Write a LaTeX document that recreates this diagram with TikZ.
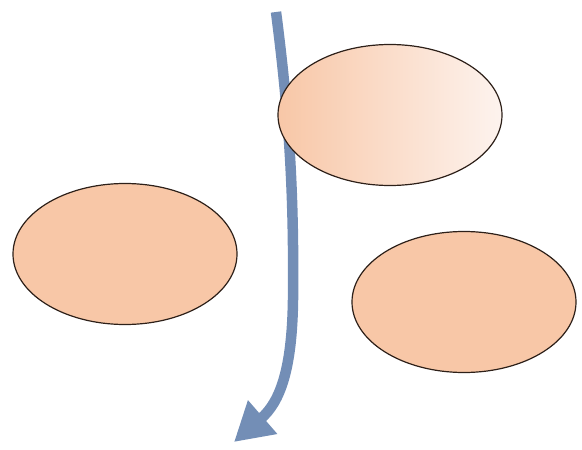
\documentclass[tikz,border=0pt]{standalone}
\usetikzlibrary{shapes.geometric,arrows.meta}
\definecolor{peach}{RGB}{248,199,167}
\definecolor{peachlight}{RGB}{253,243,238}
\definecolor{rim}{RGB}{45,32,25}
\definecolor{steel}{RGB}{115,142,182}
\begin{document}
\begin{tikzpicture}[x=1pt,y=-1pt,
  blob/.style={ellipse,draw=rim,line width=1.2pt,fill=peach,minimum width=224pt,minimum height=141pt,inner sep=0pt},
  flow/.style={draw=steel,line width=10.5pt,-{Triangle[length=38pt,width=42pt]}}]
\useasboundingbox (0,0) rectangle (582,450);
\coordinate (start) at (276,12);
\coordinate (mid) at (293,300);
\coordinate (tip) at (234,442);
\draw[flow] (start) .. controls (290,120) and (294,200) .. (mid)
  .. controls (292,370) and (280,402) .. (tip);
\node[blob,shading=axis,left color=peach,right color=peachlight,shading angle=90] (top) at (390,115) {};
\node[blob] (left) at (125,254) {};
\node[blob] (right) at (464,302) {};
\end{tikzpicture}
\end{document}
